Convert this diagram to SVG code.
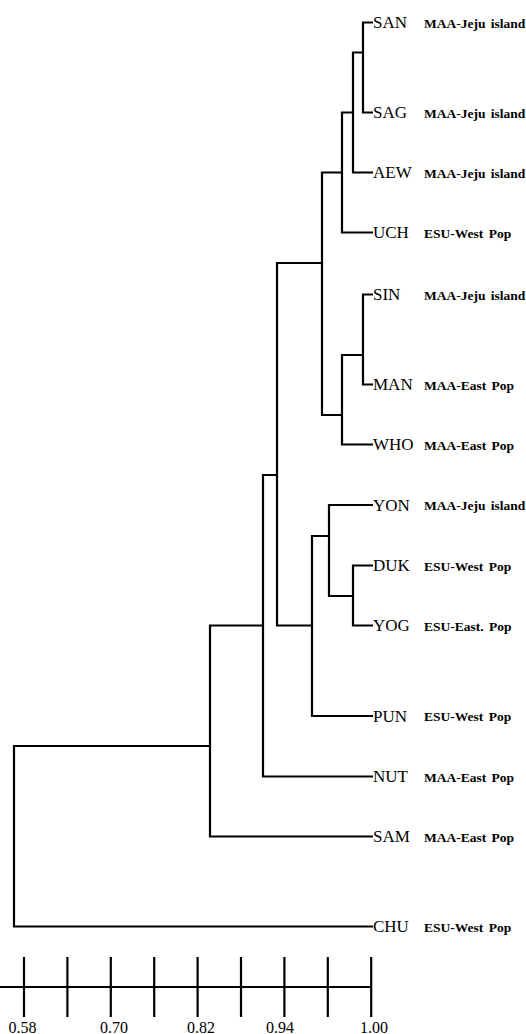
<svg xmlns="http://www.w3.org/2000/svg" width="526" height="1034" viewBox="0 0 526 1034">
<style>
.e{fill:none;stroke:#000;stroke-width:2.2;stroke-linejoin:miter}
.n{font-family:"Liberation Serif","Times New Roman",serif;font-size:17px;fill:#000}
.g{font-family:"Liberation Serif","Times New Roman",serif;font-size:13.5px;font-weight:bold;fill:#000;word-spacing:2px}
.t{font-family:"Liberation Serif","Times New Roman",serif;font-size:16px;fill:#000;text-anchor:middle}
</style>
<rect width="526" height="1034" fill="#fff"/>
<g id="connectors">
<path class="e" d="M373,22.5 H363 V112.5 H373"/>
<path class="e" d="M363,52.5 H353 V172.5 H373"/>
<path class="e" d="M353,112.5 H342 V232.5 H373"/>
<path class="e" d="M373,294.5 H363 V384.5 H373"/>
<path class="e" d="M363,355 H342 V444.5 H373"/>
<path class="e" d="M342,172.5 H322 V415 H342"/>
<path class="e" d="M373,565.5 H353 V625.5 H373"/>
<path class="e" d="M373,505 H329 V596 H353"/>
<path class="e" d="M329,536 H312 V716 H373"/>
<path class="e" d="M322,263 H277 V625.5 H312"/>
<path class="e" d="M277,475 H263 V776.5 H373"/>
<path class="e" d="M263,625.5 H210 V836.5 H373"/>
<path class="e" d="M210,746 H14 V926.5 H373"/>
</g>
<g id="SAN"><text class="n" x="373" y="28">SAN</text><text class="g" x="424" y="27.5">MAA-Jeju island</text></g>
<g id="SAG"><text class="n" x="373" y="118">SAG</text><text class="g" x="424" y="117.5">MAA-Jeju island</text></g>
<g id="AEW"><text class="n" x="373" y="178">AEW</text><text class="g" x="424" y="177.5">MAA-Jeju island</text></g>
<g id="UCH"><text class="n" x="373" y="238">UCH</text><text class="g" x="424" y="237.5">ESU-West Pop</text></g>
<g id="SIN"><text class="n" x="373" y="300">SIN</text><text class="g" x="424" y="299.5">MAA-Jeju island</text></g>
<g id="MAN"><text class="n" x="373" y="390">MAN</text><text class="g" x="424" y="389.5">MAA-East Pop</text></g>
<g id="WHO"><text class="n" x="373" y="450">WHO</text><text class="g" x="424" y="449.5">MAA-East Pop</text></g>
<g id="YON"><text class="n" x="373" y="510.5">YON</text><text class="g" x="424" y="510">MAA-Jeju island</text></g>
<g id="DUK"><text class="n" x="373" y="571">DUK</text><text class="g" x="424" y="570.5">ESU-West Pop</text></g>
<g id="YOG"><text class="n" x="373" y="631">YOG</text><text class="g" x="424" y="630.5">ESU-East. Pop</text></g>
<g id="PUN"><text class="n" x="373" y="721.5">PUN</text><text class="g" x="424" y="721">ESU-West Pop</text></g>
<g id="NUT"><text class="n" x="373" y="782">NUT</text><text class="g" x="424" y="781.5">MAA-East Pop</text></g>
<g id="SAM"><text class="n" x="373" y="842">SAM</text><text class="g" x="424" y="841.5">MAA-East Pop</text></g>
<g id="CHU"><text class="n" x="373" y="932">CHU</text><text class="g" x="424" y="931.5">ESU-West Pop</text></g>
<g id="scale">
<path class="e" d="M0,987 H371 M24,957 V1017 M67.4,957 V1017 M110.8,957 V1017 M154.2,957 V1017 M197.6,957 V1017 M241,957 V1017 M284.4,957 V1017 M327.8,957 V1017 M371.2,957 V1017"/>
<text class="t" x="22.5" y="1033">0.58</text>
<text class="t" x="114" y="1033">0.70</text>
<text class="t" x="201" y="1033">0.82</text>
<text class="t" x="280" y="1033">0.94</text>
<text class="t" x="374" y="1033">1.00</text>
</g>
</svg>
